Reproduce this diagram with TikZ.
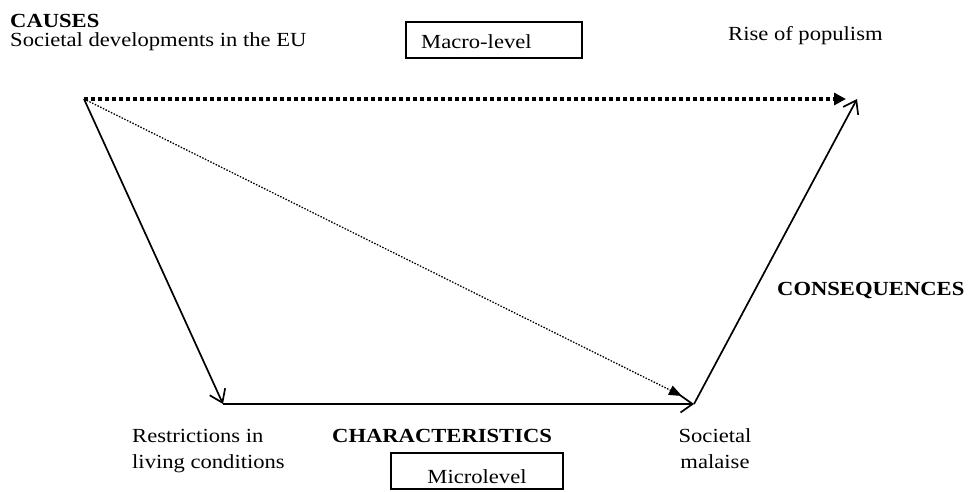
\documentclass[tikz,border=0pt]{standalone}
\usepackage{fontspec}
\setmainfont{Liberation Serif}[FakeStretch=1.13]
\usetikzlibrary{arrows.meta}

\begin{document}
\begin{tikzpicture}[x=1pt,y=-1pt,
    label/.style={anchor=base west,inner sep=0pt,font=\fontsize{20}{26}\selectfont},
    boldlabel/.style={label,font=\fontsize{20}{26}\selectfont\bfseries},
    levelbox/.style={draw,line width=1.3pt,inner sep=0pt},
    openarrow/.style={line width=1.7pt,-{Straight Barb[length=12pt,width=17pt,line width=1.7pt]}},
    thickdots/.style={line width=3.5pt,dash pattern=on 4pt off 3pt,-{Triangle[length=12pt,width=12pt]}},
    thindots/.style={line width=1.3pt,dash pattern=on 1.5pt off 1.5pt,-{Triangle[length=13pt,width=10pt]}}]
  \useasboundingbox (0,0) rectangle (968,491);
  % corners of the trapezium
  \coordinate (src) at (84,99);
  \coordinate (pop) at (857,99);
  \coordinate (popin) at (846,99);
  \coordinate (restr) at (223,404);
  \coordinate (mal) at (694,404);
  \coordinate (malin) at (682,396);
  % level boxes
  \node[levelbox,minimum width=176pt,minimum height=36pt] (macrobox) at (494,40) {};
  \node[levelbox,minimum width=172pt,minimum height=36pt] (microbox) at (477,471) {};
  % texts
  \node[boldlabel] (causes) at (10,27) {CAUSES};
  \node[label] (dev) at (10,46) {Societal developments in the EU};
  \node[label] (macro) at (421,48) {Macro-level};
  \node[label] (rise) at (728,40) {Rise of populism};
  \node[boldlabel] (cons) at (777,295) {CONSEQUENCES};
  \node[label] (restr1) at (132,442) {Restrictions in};
  \node[label] (restr2) at (132,468) {living conditions};
  \node[boldlabel] (chars) at (332,442) {CHARACTERISTICS};
  \node[label,anchor=base] (mal1) at (715,442) {Societal};
  \node[label,anchor=base] (mal2) at (715,468) {malaise};
  \node[label,anchor=base] (micro) at (477,483) {Microlevel};
  % arrows
  \draw[thickdots] (src) -- (popin);
  \draw[thindots] (src) -- (malin);
  \draw[openarrow] (src) -- (restr);
  \draw[openarrow] (restr) -- (mal);
  \draw[openarrow] (mal) -- (pop);
\end{tikzpicture}
\end{document}
